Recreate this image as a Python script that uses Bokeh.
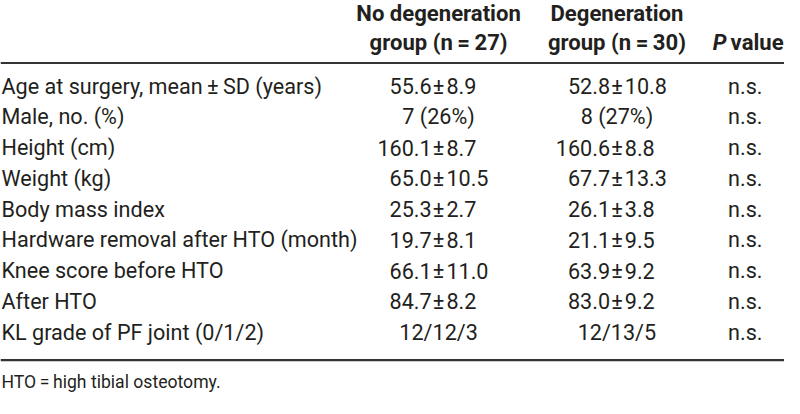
from bokeh.plotting import figure
from bokeh.models import Range1d
from bokeh.core.properties import value
from bokeh.embed import file_html
from bokeh.resources import INLINE

# ---- table content ----
row_labels = [
    "Age at surgery, mean\u2009\u00b1\u2009SD (years)",
    "Male, no. (%)",
    "Height (cm)",
    "Weight (kg)",
    "Body mass index",
    "Hardware removal after HTO (month)",
    "Knee score before HTO",
    "After HTO",
    "KL grade of PF joint (0/1/2)",
]
no_degeneration = ["55.6\u00b18.9", "7 (26%)", "160.1\u00b18.7", "65.0\u00b110.5", "25.3\u00b12.7",
                   "19.7\u00b18.1", "66.1\u00b111.0", "84.7\u00b18.2", "12/12/3"]
degeneration = ["52.8\u00b110.8", "8 (27%)", "160.6\u00b18.8", "67.7\u00b113.3", "26.1\u00b13.8",
                "21.1\u00b19.5", "63.9\u00b19.2", "83.0\u00b19.2", "12/13/5"]
p_values = ["n.s."] * 9
header_1 = ["No degeneration", "group (n\u2009=\u200927)"]
header_2 = ["Degeneration", "group (n\u2009=\u200930)"]
footnote = "HTO\u2009=\u2009high tibial osteotomy."

# ---- layout ----
W, H = 784, 398
S = W / 800.0
FONT = value("Roboto")
FS = 22 * S
FSH = 22.5 * S
COLOR = "#231f20"

p = figure(width=W, height=H, x_range=Range1d(0, 800), y_range=Range1d(414, 0),
           output_backend="svg", toolbar_location=None, min_border=0)
p.axis.visible = False
p.grid.visible = False
p.outline_line_color = None
p.background_fill_color = "white"

row_y = [89 + 32 * i for i in range(len(row_labels))]
c1, c2, c3 = 447, 629, 760

def txt(x, y, s, align="left", size=FS, style="normal"):
    p.text(x=[x], y=[y], text=[s], text_align=align, text_baseline="middle",
           text_font=FONT, text_font_size=f"{size:.1f}px", text_color=COLOR,
           text_font_style=style)

# headers
txt(c1, 13, header_1[0], "center", size=FSH, style="bold")
txt(c1, 43, header_1[1], "center", size=FSH, style="bold")
txt(c2, 13, header_2[0], "center", size=FSH, style="bold")
txt(c2, 43, header_2[1], "center", size=FSH, style="bold")
txt(741, 43, "P", "right", size=FSH, style="bold italic")
txt(745, 43, "value", "left", size=FSH, style="bold")

# rules
p.segment(x0=[0, 0], y0=[65, 374], x1=[800, 800], y1=[65, 374],
          line_color="#333333", line_width=2.2)

# rows
for y, lab in zip(row_y, row_labels):
    txt(1, y, lab, "left")

def col(xc, vals):
    left, right, ys_pm, cent, ys_c = [], [], [], [], []
    for y, v in zip(row_y, vals):
        if "\u00b1" in v:
            a, b = v.split("\u00b1")
            left.append(a); right.append(b); ys_pm.append(y)
        else:
            cent.append(v); ys_c.append(y)
    n = len(ys_pm)
    common = dict(text_baseline="middle", text_font=FONT,
                  text_font_size=f"{FS:.1f}px", text_color=COLOR)
    p.text(x=[xc - 7] * n, y=ys_pm, text=left, text_align="right", **common)
    p.text(x=[xc] * n, y=ys_pm, text=["\u00b1"] * n, text_align="center", **common)
    p.text(x=[xc + 8] * n, y=ys_pm, text=right, text_align="left", **common)
    p.text(x=[xc] * len(ys_c), y=ys_c, text=cent, text_align="center", **common)

col(c1, no_degeneration)
col(c2, degeneration)
p.text(x=[c3] * len(row_y), y=row_y, text=p_values, text_align="center",
       text_baseline="middle", text_font=FONT, text_font_size=f"{FS:.1f}px",
       text_color=COLOR)

txt(1, 397, footnote, "left", size=18 * S)

open("out.html", "w").write(file_html(p, INLINE))
